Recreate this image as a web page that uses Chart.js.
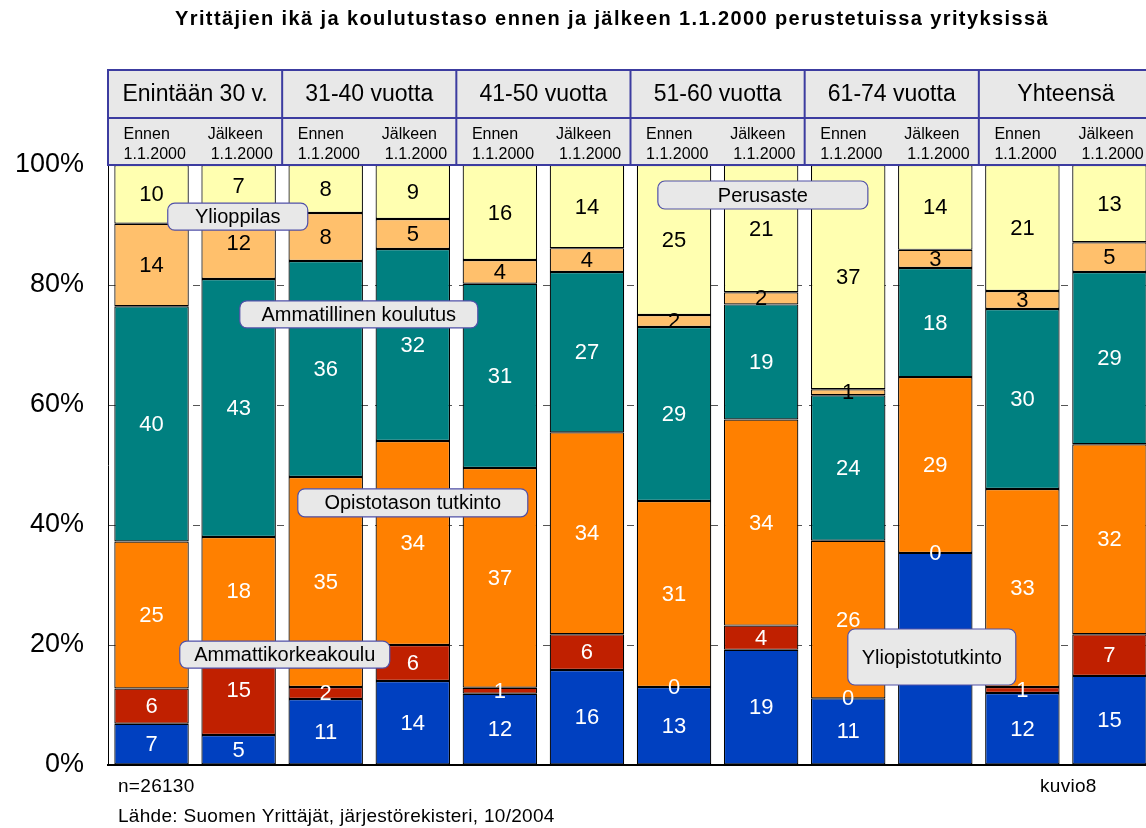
<!DOCTYPE html>
<html>
<head>
<meta charset="utf-8">
<script src="https://cdn.jsdelivr.net/npm/chart.js@4"></script>
<style>
  html, body { margin: 0; padding: 0; background: #fff; overflow: hidden; }
  canvas { display: block; }
</style>
</head>
<body>
<canvas id="chart" width="1160" height="828"></canvas>
<script>
/* ─── Data ─────────────────────────────────────────────────────── */
const groups  = ['Enintään 30 v.', '31-40 vuotta', '41-50 vuotta', '51-60 vuotta', '61-74 vuotta', 'Yhteensä'];
const periods = ['Ennen', 'Jälkeen'];
const dateLabel = '1.1.2000';

// bottom to top, percent of firms per bar
const yliopistotutkinto = [7, 5, 11, 14, 12, 16, 13, 19, 11, 35, 12, 15];
const ammattikorkea     = [6, 15, 2, 6, 1, 6, 0, 4, 0, 0, 1, 7];
const opistotaso        = [25, 18, 35, 34, 37, 34, 31, 34, 26, 29, 33, 32];
const ammatillinen      = [40, 43, 36, 32, 31, 27, 29, 19, 24, 18, 30, 29];
const ylioppilas        = [14, 12, 8, 5, 4, 4, 2, 2, 1, 3, 3, 5];
const perusaste         = [10, 7, 8, 9, 16, 14, 25, 21, 37, 14, 21, 13];

const yTicks = [0, 20, 40, 60, 80, 100];

const FONT = '"Liberation Sans", Arial, sans-serif';

/* ─── Build categories + 100% stacked series ───────────────────── */
const categories = [];
groups.forEach(g => periods.forEach(p => categories.push(g + ' ' + p)));

const seriesDefs = [
    { label: 'Yliopistotutkinto',     raw: yliopistotutkinto, color: '#0040c0', text: '#fff' },
    { label: 'Ammattikorkeakoulu',    raw: ammattikorkea,     color: '#c02000', text: '#fff' },
    { label: 'Opistotason tutkinto',  raw: opistotaso,        color: '#ff8000', text: '#fff' },
    { label: 'Ammatillinen koulutus', raw: ammatillinen,      color: '#008080', text: '#fff' },
    { label: 'Ylioppilas',            raw: ylioppilas,        color: '#ffc06c', text: '#000' },
    { label: 'Perusaste',             raw: perusaste,         color: '#ffffb0', text: '#000' },
];

const totals = categories.map((_, i) => seriesDefs.reduce((s, d) => s + d.raw[i], 0));

const datasets = seriesDefs.map(d => ({
    label           : d.label,
    data            : d.raw.map((v, i) => v / totals[i] * 100),
    raw             : d.raw,
    textColor       : d.text,
    backgroundColor : d.color,
    borderColor     : '#000',
    borderWidth     : 1.2,
    borderSkipped   : false,
    barPercentage   : 0.855,
    categoryPercentage: 1,
}));

// callouts: x in category index units, y in percent
const callouts = [
    { text: 'Ylioppilas',            x: 0.99, y: 91.4, w: 140, h: 27 },
    { text: 'Ammatillinen koulutus', x: 2.38, y: 75.1, w: 238, h: 27 },
    { text: 'Opistotason tutkinto',  x: 3.0,  y: 43.7, w: 230, h: 28 },
    { text: 'Ammattikorkeakoulu',    x: 1.53, y: 18.4, w: 210, h: 27 },
    { text: 'Perusaste',             x: 7.02, y: 95.0, w: 210, h: 28 },
    { text: 'Yliopistotutkinto',     x: 8.96, y: 18.0, w: 168, h: 56 },
];

/* ─── Plugins ──────────────────────────────────────────────────── */
const segmentLabels = {
    id: 'segmentLabels',
    afterDatasetsDraw(chart) {
        const ctx = chart.ctx;
        ctx.save();
        ctx.font = '22px ' + FONT;
        ctx.textAlign = 'center';
        ctx.textBaseline = 'middle';
        chart.data.datasets.forEach((ds, di) => {
            const meta = chart.getDatasetMeta(di);
            meta.data.forEach((el, i) => {
                const p = el.getProps(['x', 'y', 'base'], true);
                ctx.fillStyle = ds.textColor;
                ctx.fillText(String(ds.raw[i]), p.x, (p.y + p.base) / 2 + 1);
            });
        });
        ctx.restore();
    }
};

function roundRect(ctx, x, y, w, h, r) {
    ctx.beginPath();
    ctx.moveTo(x + r, y);
    ctx.arcTo(x + w, y, x + w, y + h, r);
    ctx.arcTo(x + w, y + h, x, y + h, r);
    ctx.arcTo(x, y + h, x, y, r);
    ctx.arcTo(x, y, x + w, y, r);
    ctx.closePath();
}

const decorations = {
    id: 'decorations',
    afterDraw(chart) {
        const ctx = chart.ctx;
        const xs = chart.scales.x;
        const ys = chart.scales.y;
        const area = chart.chartArea;
        const step = (xs.right - xs.left) / categories.length;

        ctx.save();

        // title
        ctx.fillStyle = '#000';
        ctx.font = 'bold 20px ' + FONT;
        ctx.letterSpacing = '1.4px';
        ctx.textAlign = 'center';
        ctx.textBaseline = 'middle';
        ctx.fillText('Yrittäjien ikä ja koulutustaso ennen ja jälkeen 1.1.2000 perustetuissa yrityksissä', 612, 19);
        ctx.letterSpacing = '0px';

        // header table
        const top = 70, mid = 118, bot = area.top;
        ctx.fillStyle = '#e8e8e8';
        ctx.fillRect(xs.left, top, chart.width - xs.left + 10, bot - top);
        ctx.strokeStyle = '#3c3ca0';
        ctx.lineWidth = 2;
        ctx.strokeRect(xs.left, top, chart.width - xs.left + 10, bot - top);
        ctx.beginPath();
        ctx.moveTo(xs.left, mid);
        ctx.lineTo(chart.width, mid);
        groups.forEach((g, gi) => {
            const gx = xs.left + gi * 2 * step;
            ctx.moveTo(gx, top);
            ctx.lineTo(gx, bot);
        });
        ctx.stroke();

        ctx.fillStyle = '#000';
        groups.forEach((g, gi) => {
            const cx = xs.left + (gi * 2 + 1) * step;
            ctx.font = '23px ' + FONT;
            ctx.textAlign = 'center';
            ctx.fillText(g, cx, (top + mid) / 2 + 1);
            periods.forEach((p, pi) => {
                const bx = xs.getPixelForValue(gi * 2 + pi);
                ctx.font = '16px ' + FONT;
                ctx.textAlign = 'left';
                ctx.fillText(p, bx - 28 - pi * 3, 135);
                ctx.fillText(dateLabel, bx - 28, 155);
            });
        });

        // callouts
        callouts.forEach(c => {
            const cx = xs.left + (c.x + 0.5) * step;
            const cy = ys.getPixelForValue(c.y);
            roundRect(ctx, cx - c.w / 2, cy - c.h / 2, c.w, c.h, 7);
            ctx.fillStyle = '#e8e8e8';
            ctx.fill();
            ctx.strokeStyle = '#5050a8';
            ctx.lineWidth = 1.2;
            ctx.stroke();
            ctx.fillStyle = '#000';
            ctx.font = '20px ' + FONT;
            ctx.textAlign = 'center';
            ctx.fillText(c.text, cx, cy + 1);
        });

        // footer notes
        ctx.font = '19px ' + FONT;
        ctx.letterSpacing = '0.3px';
        ctx.textAlign = 'left';
        ctx.fillText('n=26130', 118, 787);
        ctx.fillText('kuvio8', 1040, 787);
        ctx.fillText('Lähde: Suomen Yrittäjät, järjestörekisteri, 10/2004', 118, 817);
        ctx.letterSpacing = '0px';

        ctx.restore();
    }
};

/* ─── Chart ────────────────────────────────────────────────────── */
new Chart(document.getElementById('chart').getContext('2d'), {
    type: 'bar',
    data: { labels: categories, datasets },
    options: {
        responsive: false,
        animation: false,
        devicePixelRatio: 1,
        layout: { padding: { top: 165, bottom: 63, left: 0, right: 7 } },
        plugins: { legend: { display: false }, tooltip: { enabled: false }, title: { display: false } },
        scales: {
            x: {
                stacked: true,
                grid: { display: false },
                ticks: { display: false },
                border: { display: true, color: '#000', width: 2 },
                afterFit(scale) { scale.height = 0; },
            },
            y: {
                stacked: true,
                min: 0,
                max: 100,
                afterBuildTicks(scale) { scale.ticks = yTicks.map(v => ({ value: v })); },
                afterFit(scale) { scale.width = 108; },
                ticks: {
                    color: '#000',
                    padding: 24,
                    font: { family: FONT, size: 27 },
                    callback: v => v + '%',
                },
                // in v4 border.dash styles the grid lines; the axis line stays solid
                grid: { drawTicks: false, color: '#555' },
                border: { display: true, color: '#000', width: 1, dash: [7, 7] },
            },
        },
    },
    plugins: [segmentLabels, decorations],
});
</script>
</body>
</html>
